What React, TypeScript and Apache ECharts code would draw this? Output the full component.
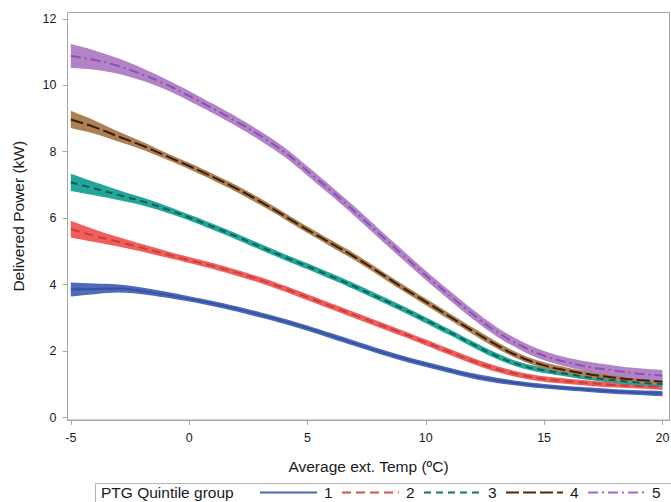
import React, { useEffect, useRef } from 'react';
import * as echarts from 'echarts';

// Average external temperature (ºC)
const temps = [-5, -4, -3, -2, -1, 0, 1, 2, 3, 4, 5, 6, 7, 8, 9, 10, 11, 12, 13, 14, 15, 16, 17, 18, 19, 20];

// Delivered power (kW), fitted mean per PTG quintile group
const group1 = [3.85, 3.87, 3.88, 3.81, 3.70, 3.57, 3.43, 3.27, 3.09, 2.90, 2.69, 2.46, 2.23, 2.00, 1.79, 1.60, 1.42, 1.25, 1.12, 1.02, 0.94, 0.88, 0.83, 0.78, 0.75, 0.72];
const group2 = [5.67, 5.47, 5.29, 5.11, 4.92, 4.74, 4.56, 4.36, 4.14, 3.89, 3.62, 3.35, 3.08, 2.81, 2.54, 2.26, 1.98, 1.70, 1.46, 1.28, 1.16, 1.09, 1.03, 0.98, 0.95, 0.92];
const group3 = [7.08, 6.89, 6.70, 6.51, 6.28, 6.02, 5.74, 5.45, 5.14, 4.84, 4.55, 4.25, 3.94, 3.61, 3.28, 2.93, 2.57, 2.20, 1.85, 1.58, 1.42, 1.31, 1.20, 1.12, 1.05, 1.01];
const group4 = [8.97, 8.74, 8.46, 8.19, 7.88, 7.57, 7.24, 6.89, 6.50, 6.08, 5.65, 5.24, 4.83, 4.38, 3.92, 3.48, 3.04, 2.60, 2.18, 1.82, 1.57, 1.41, 1.29, 1.20, 1.13, 1.08];
const group5 = [10.88, 10.76, 10.58, 10.33, 10.03, 9.68, 9.30, 8.91, 8.48, 8.00, 7.42, 6.82, 6.20, 5.55, 4.91, 4.28, 3.68, 3.10, 2.58, 2.17, 1.86, 1.66, 1.51, 1.41, 1.32, 1.26];

// Confidence band half-widths (kW)
const ci1 = [0.21, 0.16, 0.12, 0.10, 0.09, 0.08, 0.08, 0.08, 0.08, 0.08, 0.08, 0.08, 0.08, 0.08, 0.08, 0.08, 0.08, 0.08, 0.08, 0.07, 0.07, 0.07, 0.07, 0.07, 0.07, 0.08];
const ci2 = [0.25, 0.19, 0.14, 0.11, 0.10, 0.09, 0.09, 0.09, 0.09, 0.09, 0.09, 0.09, 0.09, 0.09, 0.09, 0.09, 0.09, 0.09, 0.09, 0.08, 0.08, 0.08, 0.08, 0.08, 0.08, 0.09];
const ci3 = [0.26, 0.20, 0.15, 0.12, 0.10, 0.09, 0.09, 0.09, 0.09, 0.09, 0.09, 0.09, 0.09, 0.09, 0.09, 0.09, 0.09, 0.09, 0.09, 0.08, 0.08, 0.08, 0.08, 0.08, 0.08, 0.09];
const ci4 = [0.26, 0.20, 0.15, 0.12, 0.10, 0.10, 0.10, 0.10, 0.10, 0.10, 0.10, 0.10, 0.10, 0.10, 0.10, 0.10, 0.10, 0.10, 0.10, 0.09, 0.09, 0.09, 0.09, 0.09, 0.09, 0.10];
const ci5 = [0.36, 0.29, 0.23, 0.19, 0.16, 0.15, 0.14, 0.14, 0.14, 0.14, 0.14, 0.14, 0.14, 0.14, 0.14, 0.14, 0.14, 0.14, 0.14, 0.14, 0.14, 0.14, 0.15, 0.15, 0.16, 0.17];

const groupNames = ['1', '2', '3', '4', '5'];
const xTickValues = [-5, 0, 5, 10, 15, 20];
const yTickValues = [0, 2, 4, 6, 8, 10, 12];

const legendTitle = 'PTG Quintile group';
const xTitle = 'Average ext. Temp (ºC)';
const yTitle = 'Delivered Power (kW)';

const bandColors = ['#4f6bb8', '#ef5f5c', '#23a597', '#ad7f55', '#b283c5'];
const lineColors = ['#3553a5', '#c83e3e', '#0a5f56', '#3b1e06', '#8a52b4'];
const legendColors = ['#4566be', '#de4a46', '#0b7a6c', '#4a2a0a', '#9c6acb'];
const dashes: any[] = ['solid', [9, 5], [7, 5], [13, 4], [10, 4, 2, 4]];

const FONT = '"Liberation Sans", Arial, sans-serif';
const AXIS_GREY = '#a6a6a6';
const TEXT = '#1a1a1a';

export default function App() {
  const ref = useRef<HTMLDivElement>(null);

  useEffect(() => {
    if (!ref.current) return;
    const chart = echarts.init(ref.current, null, { renderer: 'svg' });
    const means = [group1, group2, group3, group4, group5];
    const cis = [ci1, ci2, ci3, ci4, ci5];

    const series: any[] = [];
    means.forEach((m, g) => {
      const ci = cis[g];
      series.push({
        type: 'custom',
        name: 'band' + groupNames[g],
        silent: true,
        data: temps.map((t, i) => [t, m[i] - ci[i], m[i] + ci[i]]),
        encode: { x: 0, y: [1, 2] },
        renderItem: (params: any, api: any) => {
          if (params.dataIndex !== 0) return null;
          const upper = temps.map((t, i) => api.coord([t, m[i] + ci[i]]));
          const lower = temps.map((t, i) => api.coord([t, m[i] - ci[i]])).reverse();
          // duplicate the four corner points so the band ends stay square
          const pts = [upper[0], ...upper, upper[upper.length - 1], lower[0], ...lower, lower[lower.length - 1]];
          let minX = Infinity, minY = Infinity, maxX = -Infinity, maxY = -Infinity;
          pts.forEach((p: number[]) => {
            minX = Math.min(minX, p[0]); maxX = Math.max(maxX, p[0]);
            minY = Math.min(minY, p[1]); maxY = Math.max(maxY, p[1]);
          });
          return {
            type: 'polygon',
            shape: { points: pts, smooth: 0.35, smoothConstraint: [[minX, minY], [maxX, maxY]] },
            style: { fill: bandColors[g], stroke: null },
          };
        },
      });
      series.push({
        type: 'line',
        name: groupNames[g],
        data: temps.map((t, i) => [t, m[i]]),
        smooth: true,
        symbol: 'none',
        showSymbol: false,
        silent: true,
        lineStyle: { color: lineColors[g], width: 2, type: dashes[g] },
        itemStyle: { color: lineColors[g] },
      });
    });

    // Legend drawn as graphic elements (box, title, line samples, labels)
    const legendStarts = [260, 342, 424, 506, 588];
    const legendY = 492.5;
    const legendGraphics: any[] = [
      {
        type: 'rect',
        silent: true,
        shape: { x: 95.5, y: 483.5, width: 600, height: 40 },
        style: { fill: '#fff', stroke: '#b5b5b5', lineWidth: 1 },
      },
      {
        type: 'text',
        silent: true,
        x: 101,
        y: legendY,
        style: { text: legendTitle, fontSize: 15.5, fill: TEXT, fontFamily: FONT, verticalAlign: 'middle', align: 'left' },
      },
    ];
    groupNames.forEach((name, g) => {
      const s = legendStarts[g];
      legendGraphics.push({
        type: 'line',
        silent: true,
        shape: { x1: s, y1: legendY, x2: s + 57, y2: legendY },
        style: {
          stroke: legendColors[g],
          lineWidth: 2,
          lineDash: dashes[g] === 'solid' ? null : dashes[g],
        },
      });
      legendGraphics.push({
        type: 'text',
        silent: true,
        x: s + 64,
        y: legendY,
        style: { text: name, fontSize: 15.5, fill: TEXT, fontFamily: FONT, verticalAlign: 'middle', align: 'left' },
      });
    });

    chart.setOption({
      animation: false,
      textStyle: { fontFamily: FONT },
      grid: {
        left: 67.5, top: 12.5, right: 1.5, bottom: 82,
        show: true, borderColor: AXIS_GREY, borderWidth: 1,
        containLabel: false, outerBoundsMode: 'none',
      },
      xAxis: {
        type: 'value',
        min: -5.14,
        max: 20.3,
        name: xTitle,
        nameLocation: 'middle',
        nameGap: 38,
        nameTextStyle: { fontSize: 15.5, color: TEXT, fontFamily: FONT },
        axisLine: { show: true, onZero: false, lineStyle: { color: AXIS_GREY, width: 1 } },
        axisTick: { show: true, length: 5, lineStyle: { color: AXIS_GREY }, customValues: xTickValues },
        axisLabel: { margin: 11, fontSize: 12.5, color: TEXT, customValues: xTickValues },
        splitLine: { show: false },
      },
      yAxis: {
        type: 'value',
        min: -0.075,
        max: 12.19,
        name: yTitle,
        nameLocation: 'middle',
        nameGap: 41,
        nameTextStyle: { fontSize: 15.5, color: TEXT, fontFamily: FONT },
        axisLine: { show: true, onZero: false, lineStyle: { color: AXIS_GREY, width: 1 } },
        axisTick: { show: true, length: 5, lineStyle: { color: AXIS_GREY }, customValues: yTickValues },
        axisLabel: { margin: 11, fontSize: 12.5, color: TEXT, customValues: yTickValues },
        splitLine: { show: false },
      },
      graphic: legendGraphics,
      series,
    });

    return () => chart.dispose();
  }, []);

  return (
    <div
      ref={ref}
      style={{ position: 'fixed', left: 0, top: 0, width: 671, height: 502, background: '#fff' }}
    />
  );
}
